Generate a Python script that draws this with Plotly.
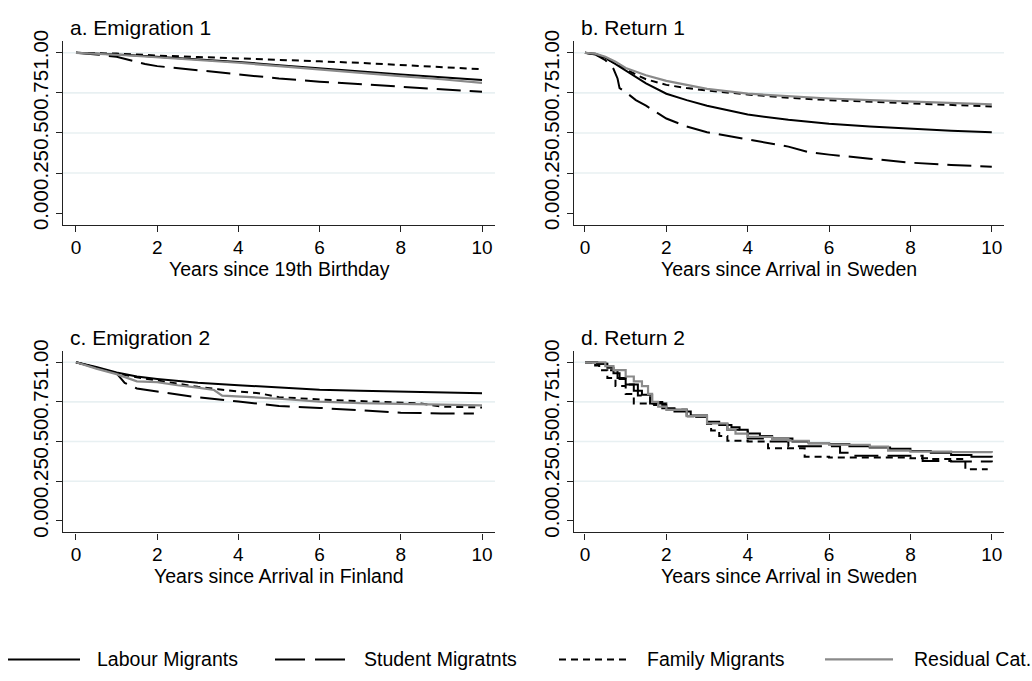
import plotly.graph_objects as go

W, H = 1032, 681

# ---- group names (legend order) ----
groups = ["Labour Migrants", "Student Migratnts", "Family Migrants", "Residual Cat."]

# ---- a. Emigration 1 : survival by years since 19th birthday ----
a_labour_t = [0, 0.5, 1, 1.5, 2, 3, 4, 5, 6, 7, 8, 9, 10]
a_labour = [1, 0.996, 0.99, 0.983, 0.975, 0.96, 0.943, 0.923, 0.902, 0.882, 0.864, 0.847, 0.83]
a_student_t = [0, 0.5, 1, 1.5, 1.7, 2, 3, 4, 5, 6, 7, 8, 9, 10]
a_student = [1, 0.99, 0.975, 0.945, 0.93, 0.917, 0.892, 0.863, 0.84, 0.82, 0.804, 0.788, 0.773, 0.757]
a_family_t = [0, 0.5, 1, 1.5, 2, 3, 4, 5, 6, 7, 8, 9, 10]
a_family = [1, 0.999, 0.995, 0.99, 0.983, 0.974, 0.966, 0.958, 0.947, 0.937, 0.925, 0.912, 0.898]
a_residual_t = [0, 0.5, 1, 1.5, 2, 3, 4, 5, 6, 7, 8, 9, 10]
a_residual = [1, 0.995, 0.988, 0.98, 0.972, 0.956, 0.938, 0.917, 0.895, 0.875, 0.855, 0.835, 0.813]

# ---- b. Return 1 : years since arrival in Sweden ----
b_labour_t = [0, 0.25, 0.5, 0.75, 1, 1.25, 1.5, 2, 2.5, 3, 4, 5, 6, 7, 8, 9, 10]
b_labour = [1, 0.995, 0.97, 0.93, 0.89, 0.845, 0.81, 0.745, 0.705, 0.67, 0.615, 0.582, 0.558, 0.54, 0.526, 0.514, 0.505]
b_student_t = [0, 0.25, 0.5, 0.6, 0.7, 0.8, 0.85, 1, 1.25, 1.5, 2, 2.5, 3, 4, 5, 5.5, 6, 7, 8, 9, 10]
b_student = [1, 0.99, 0.955, 0.93, 0.9, 0.84, 0.78, 0.755, 0.705, 0.67, 0.59, 0.54, 0.505, 0.46, 0.415, 0.38, 0.365, 0.34, 0.315, 0.3, 0.29]
b_family_t = [0, 0.25, 0.5, 0.75, 1, 1.25, 1.5, 2, 2.5, 3, 4, 5, 6, 7, 8, 9, 10]
b_family = [1, 0.99, 0.965, 0.93, 0.9, 0.865, 0.835, 0.8, 0.78, 0.765, 0.74, 0.72, 0.705, 0.695, 0.685, 0.675, 0.665]
b_residual_t = [0, 0.25, 0.5, 0.75, 1, 1.25, 1.5, 2, 2.5, 3, 4, 5, 6, 7, 8, 9, 10]
b_residual = [1, 0.995, 0.975, 0.945, 0.905, 0.88, 0.86, 0.825, 0.8, 0.775, 0.745, 0.73, 0.715, 0.705, 0.695, 0.686, 0.678]

# ---- c. Emigration 2 : years since arrival in Finland ----
c_labour_t = [0, 0.5, 1, 1.5, 2, 3, 4, 5, 6, 7, 8, 9, 10]
c_labour = [1, 0.97, 0.935, 0.91, 0.895, 0.87, 0.855, 0.84, 0.827, 0.82, 0.814, 0.809, 0.805]
c_student_t = [0, 0.5, 1, 1.2, 1.5, 2, 3, 4, 5, 6, 7, 8, 9, 9.8]
c_student = [1, 0.965, 0.93, 0.87, 0.835, 0.815, 0.779, 0.752, 0.724, 0.712, 0.698, 0.682, 0.677, 0.677]
c_family_t = [0, 0.5, 1, 1.5, 2, 2.5, 3, 3.5, 4, 4.5, 5, 6, 7, 8, 8.5, 9, 10]
c_family = [1, 0.965, 0.93, 0.905, 0.885, 0.865, 0.845, 0.83, 0.815, 0.805, 0.78, 0.765, 0.755, 0.745, 0.74, 0.72, 0.715]
c_residual_t = [0, 0.5, 1, 1.5, 2, 2.5, 3, 3.4, 3.6, 4, 5, 6, 7, 8, 9, 10]
c_residual = [1, 0.96, 0.925, 0.88, 0.875, 0.855, 0.84, 0.825, 0.79, 0.785, 0.77, 0.752, 0.742, 0.738, 0.733, 0.728]

# ---- d. Return 2 : years since arrival in Sweden (step estimates) ----
d_labour_t = [0, 0.3, 0.55, 0.7, 0.85, 1, 1.2, 1.4, 1.65, 1.9, 2.2, 2.6, 3, 3.3, 3.6, 3.8, 4, 4.3, 4.6,
              5.1, 5.5, 6, 6.5, 7, 7.5, 8, 8.5, 9, 9.5, 10]
d_labour = [1, 0.99, 0.965, 0.93, 0.895, 0.86, 0.82, 0.795, 0.75, 0.71, 0.69, 0.665, 0.625, 0.605, 0.59,
            0.575, 0.55, 0.535, 0.52, 0.5, 0.49, 0.483, 0.47, 0.463, 0.455, 0.44, 0.43, 0.415, 0.405, 0.4]
d_student_t = [0, 0.3, 0.6, 0.8, 1, 1.3, 1.6, 2, 2.5, 3, 3.5, 4, 4.5, 5, 6.27, 6.6, 8.3, 9, 10]
d_student = [1, 0.99, 0.95, 0.9, 0.86, 0.79, 0.74, 0.7, 0.655, 0.61, 0.575, 0.52, 0.5, 0.47, 0.43, 0.41,
             0.378, 0.375, 0.37]
d_family_t = [0, 0.25, 0.35, 0.55, 0.75, 1, 1.2, 1.7, 2, 2.5, 3, 3.1, 3.3, 3.5, 4, 4.5, 5.4, 6, 8, 8.5,
              9.35, 9.9]
d_family = [1, 0.98, 0.95, 0.9, 0.85, 0.8, 0.74, 0.73, 0.7, 0.66, 0.62, 0.57, 0.535, 0.505, 0.5, 0.458,
            0.405, 0.4, 0.395, 0.39, 0.325, 0.325]
d_residual_t = [0, 0.5, 0.7, 1, 1.2, 1.4, 1.55, 1.65, 1.8, 2, 2.5, 3, 3.5, 3.7, 4, 4.6, 5, 5.5, 6, 7,
                7.45, 8, 9, 10]
d_residual = [1, 0.975, 0.95, 0.91, 0.88, 0.85, 0.8, 0.75, 0.72, 0.7, 0.66, 0.615, 0.575, 0.55, 0.53,
              0.515, 0.505, 0.49, 0.48, 0.468, 0.443, 0.437, 0.433, 0.43]

# ---- panel labels and axis titles ----
panel_titles = ["a. Emigration 1", "b. Return 1", "c. Emigration 2", "d. Return 2"]
x_titles = ["Years since 19th Birthday", "Years since Arrival in Sweden",
            "Years since Arrival in Finland", "Years since Arrival in Sweden"]
x_ticks = [0, 2, 4, 6, 8, 10]
y_ticks = [0, 0.25, 0.5, 0.75, 1.0]
y_ticktext = ["0.00", "0.25", "0.50", "0.75", "1.00"]

FONT = "Liberation Sans, Arial, sans-serif"
styles = [
    dict(color="#000000", width=2.0, dash="solid"),
    dict(color="#000000", width=2.0, dash="24px,9px"),
    dict(color="#000000", width=2.0, dash="7px,5px"),
    dict(color="#8a8a8a", width=2.2, dash="solid"),
]

panels = [
    [(a_labour_t, a_labour), (a_student_t, a_student), (a_family_t, a_family), (a_residual_t, a_residual)],
    [(b_labour_t, b_labour), (b_student_t, b_student), (b_family_t, b_family), (b_residual_t, b_residual)],
    [(c_labour_t, c_labour), (c_student_t, c_student), (c_family_t, c_family), (c_residual_t, c_residual)],
    [(d_labour_t, d_labour), (d_student_t, d_student), (d_family_t, d_family), (d_residual_t, d_residual)],
]
step_panel = [False, False, False, True]

# pixel boxes of the four plot areas: (left, right, top, bottom)
boxes = [(63, 495, 31, 219), (574, 1004, 31, 219), (63, 495, 348, 534), (574, 1004, 348, 534)]
x_ranges = [[-0.32, 10.32], [-0.27, 10.3], [-0.32, 10.32], [-0.27, 10.3]]
y_range = [-0.073, 1.072]

fig = go.Figure()
layout = dict(
    width=W, height=H, margin=dict(l=0, r=0, t=0, b=0),
    paper_bgcolor="white", plot_bgcolor="white", showlegend=False,
    font=dict(family=FONT, color="#000000"),
)
shapes = []
annotations = []

for i, series in enumerate(panels):
    n = "" if i == 0 else str(i + 1)
    xa, ya = "x" + n, "y" + n
    for (t, s), st, name in zip(series, styles, groups):
        fig.add_trace(go.Scatter(
            x=t, y=s, mode="lines", name=name, xaxis=xa, yaxis=ya,
            line=dict(color=st["color"], width=st["width"], dash=st["dash"],
                      shape="hv" if step_panel[i] else "linear"),
        ))
    l, r, tp, bt = boxes[i]
    layout["xaxis" + n] = dict(
        domain=[l / W, r / W], range=x_ranges[i], anchor=ya,
        tickvals=x_ticks, ticks="outside", ticklen=6, tickwidth=1.2, tickcolor="#222",
        showline=True, linecolor="#222", linewidth=1.3, showgrid=False, zeroline=False,
        tickfont=dict(size=19, family=FONT, color="#000"), ticklabelstandoff=-1,
    )
    layout["yaxis" + n] = dict(
        domain=[1 - bt / H, 1 - tp / H], range=y_range, anchor=xa,
        tickvals=y_ticks, ticktext=y_ticktext, tickangle=-90,
        ticks="outside", ticklen=6, tickwidth=1.2, tickcolor="#222",
        showline=True, linecolor="#222", linewidth=1.3, showgrid=False, zeroline=False,
        tickfont=dict(size=20.5, family=FONT, color="#000"),
    )
    # light horizontal grid at the non-zero y ticks
    for yv in y_ticks[1:]:
        shapes.append(dict(type="line", xref=xa + " domain", yref=ya, x0=0, x1=1, y0=yv, y1=yv,
                           line=dict(color="#e8f0f2", width=1.6), layer="below"))
    # panel title and x-axis title
    annotations.append(dict(text=panel_titles[i], xref="paper", yref="paper",
                            x=(l + 5) / W, y=1 - (tp - 14) / H, xanchor="left", yanchor="middle",
                            showarrow=False, font=dict(size=21, family=FONT, color="#000")))
    annotations.append(dict(text=x_titles[i], xref="paper", yref="paper",
                            x=(l + r) / 2 / W, y=1 - (bt + 45) / H, xanchor="center", yanchor="middle",
                            showarrow=False, font=dict(size=19.5, family=FONT, color="#000")))

# legend row along the bottom
leg_line_x = [(8, 80), (275, 345), (559, 630), (825, 893)]
leg_text_x = [95, 362, 645, 912]
leg_y = 1 - 664 / H
for (x0, x1), tx, st, name in zip(leg_line_x, leg_text_x, styles, groups):
    dash = st["dash"]
    if dash == "24px,9px":
        dash = "30px,10px"
    shapes.append(dict(type="line", xref="paper", yref="paper", x0=x0 / W, x1=x1 / W,
                       y0=leg_y, y1=leg_y, line=dict(color=st["color"], width=st["width"], dash=dash)))
    annotations.append(dict(text=name, xref="paper", yref="paper", x=tx / W, y=leg_y,
                            xanchor="left", yanchor="middle", showarrow=False,
                            font=dict(size=19.5, family=FONT, color="#000")))

layout["shapes"] = shapes
layout["annotations"] = annotations
fig.update_layout(**layout)
fig.write_html("out.html")
